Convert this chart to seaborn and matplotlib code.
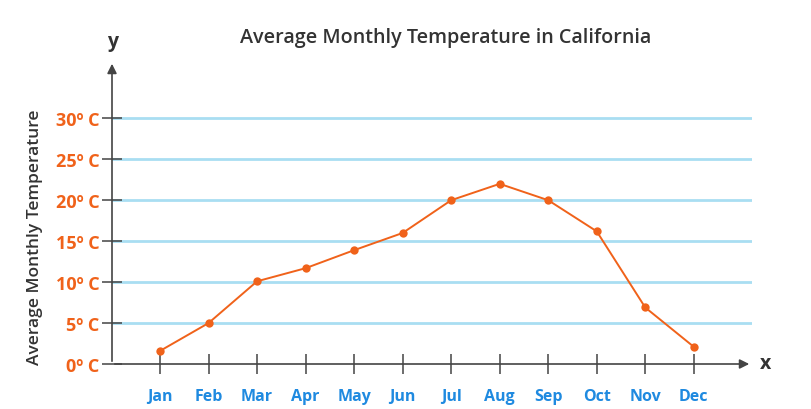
import pandas as pd
import numpy as np
import matplotlib.pyplot as plt
import seaborn as sns

months = ['Jan', 'Feb', 'Mar', 'Apr', 'May', 'Jun', 'Jul', 'Aug', 'Sep', 'Oct', 'Nov', 'Dec']
temps = [1.6, 5.0, 10.1, 11.7, 13.9, 16.0, 20.0, 22.0, 20.0, 16.2, 6.9, 2.1]
y_ticks = [0, 5, 10, 15, 20, 25, 30]
y_labels = ['0º C', '5º C', '10º C', '15º C', '20º C', '25º C', '30º C']

df = pd.DataFrame({'idx': np.arange(len(months)), 'temp': temps})

sns.set_style('white')
plt.rcParams['font.family'] = ['Open Sans', 'DejaVu Sans']

fig = plt.figure(figsize=(8.11, 4.10), dpi=100)
ax = fig.add_axes([112 / 811, 45 / 410, 640 / 811, 303 / 410])

orange = '#f0621a'
blue = '#1f8ae0'
dark = '#333333'

for t in y_ticks[1:]:
    ax.axhline(t, color='#a9def2', lw=2, zorder=0)

sns.lineplot(data=df, x='idx', y='temp', ax=ax, color=orange, lw=1.4,
             marker='o', markersize=6, markeredgewidth=0, zorder=3)

ax.set_xlim(-0.99, 12.2)
ax.set_ylim(0, 37)
ax.set_xticks(df['idx'])
ax.set_xticklabels(months, color=blue, fontweight='bold', fontsize=11.5)
ax.set_yticks(y_ticks)
ax.set_yticklabels(y_labels, color=orange, fontweight='bold', fontsize=13)
ax.tick_params(axis='both', direction='inout', length=14, width=1.1, color='#444444',
               bottom=True, left=True)
ax.tick_params(axis='x', pad=10)
ax.tick_params(axis='y', pad=2)
ax.set_xlabel('')
ax.set_ylabel('Average Monthly Temperature', color=dark, fontsize=12.5,
              fontweight='semibold')
ax.yaxis.set_label_coords(-0.108, 0.42)

for s in ax.spines.values():
    s.set_visible(False)

ax.annotate('', xy=(1.0, 0), xytext=(0, 0), xycoords='axes fraction',
            arrowprops=dict(arrowstyle='-|>', color='#444444', lw=1.2, mutation_scale=14))
ax.annotate('', xy=(0, 1.0), xytext=(0, 0), xycoords='axes fraction',
            arrowprops=dict(arrowstyle='-|>', color='#444444', lw=1.2, mutation_scale=14))

fig.text(113 / 811, 1 - 42 / 410, 'y', ha='center', va='center', fontsize=14,
         fontweight='bold', color=dark)
fig.text(766 / 811, 1 - 364 / 410, 'x', ha='center', va='center', fontsize=14,
         fontweight='bold', color=dark)
fig.text(446 / 811, 1 - 38 / 410, 'Average Monthly Temperature in California',
         ha='center', va='center', fontsize=14.2, fontweight='semibold', color=dark)

fig.savefig('out.png', dpi=100)
